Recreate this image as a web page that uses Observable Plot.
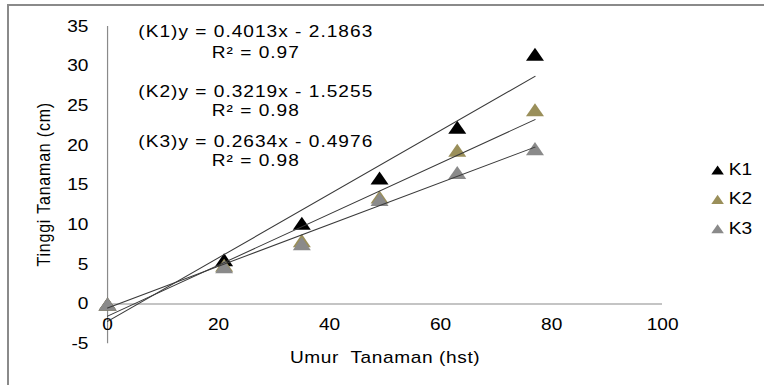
<!DOCTYPE html>
<html>
<head>
<meta charset="utf-8">
<script src="https://cdn.jsdelivr.net/npm/d3@7"></script>
<script src="https://cdn.jsdelivr.net/npm/@observablehq/plot@0.6"></script>
<style>
  html, body { margin: 0; padding: 0; background: #fff; }
  #wrap { position: relative; width: 764px; height: 385px; overflow: hidden; }
  #border { position: absolute; left: 7px; top: 4px; width: 800px; height: 420px;
            border-left: 2px solid #8a8a8a; border-top: 2px solid #8a8a8a; }
  #chart { position: absolute; left: 0; top: 0; }
</style>
</head>
<body>
<div id="wrap"><div id="border"></div><div id="chart"></div></div>
<script>
// ---- data ----
const days = [0, 21, 35, 49, 63, 77];
const seriesNames = ["K1", "K2", "K3"];
const k1 = [0, 5.6, 10.2, 15.9, 22.3, 31.5];
const k2 = [0, 4.9, 8.0, 13.5, 19.4, 24.5];
const k3 = [0, 4.7, 7.6, 13.2, 16.6, 19.6];
const slopes = [0.4013, 0.3219, 0.2634];
const intercepts = [-2.1863, -1.5255, -0.4976];
const r2 = ["0.97", "0.98", "0.98"];
const xTicks = [0, 20, 40, 60, 80, 100];
const yTicks = [-5, 0, 5, 10, 15, 20, 25, 30, 35];
const xLabel = "Umur  Tanaman (hst)";
const yLabel = "Tinggi Tanaman (cm)";

// ---- styling / layout ----
const colors = ["#000000", "#9a8f5a", "#8a8a8a"];
const W = 640, H = 385;   // drawn narrow, stretched horizontally to 764 like the source
const font = "'Liberation Sans', Arial, sans-serif";
const eqX = 26.7;
const eqY = [34.3, 26.7, 20.5];
const r2Y = [31.7, 24.3, 18.1];
const legX = 109.9, legTextX = 111.9;
const legY = [16.9, 13.2, 9.5];

const valuesBySeries = [k1, k2, k3];
const points = [];
seriesNames.forEach((s, i) => days.forEach((d, j) => points.push({series: s, x: d, y: valuesBySeries[i][j], c: colors[i]})));

const xMax = d3.max(days);
const trend = [];
seriesNames.forEach((s, i) => [0, xMax].forEach(x => trend.push({series: s, x, y: slopes[i] * x + intercepts[i]})));

const eqText = seriesNames.map((s, i) => ({
  t: `(${s})y = ${slopes[i]}x - ${Math.abs(intercepts[i])}`, y: eqY[i]
}));
const r2Text = seriesNames.map((s, i) => ({t: `R² = ${r2[i]}`, y: r2Y[i]}));
const legend = seriesNames.map((s, i) => ({s, c: colors[i], y: legY[i]}));

const chart = Plot.plot({
  width: W, height: H,
  marginLeft: 89.6, marginRight: 85.4, marginTop: 26, marginBottom: 41.8,
  style: {fontFamily: font, fontSize: "16px", color: "#000", background: "transparent", overflow: "visible"},
  x: {domain: [0, 100], axis: null},
  y: {domain: [-5, 35], axis: null},
  marks: [
    Plot.ruleX([0], {y1: -5, y2: 35, stroke: "#8a8a8a", strokeWidth: 1}),
    Plot.ruleY([0], {x1: 0, x2: 100, stroke: "#8a8a8a", strokeWidth: 1}),
    Plot.text(yTicks, {x: 0, y: d => d, text: d => String(d), textAnchor: "end", dx: -16, fontSize: 16, fill: "#000"}),
    Plot.text(xTicks, {x: d => d, y: 0, text: d => String(d), dy: 21, fontSize: 16, fill: "#000"}),
    Plot.text([xLabel], {x: 50, y: -5, text: d => d, dy: 14, fontSize: 16, fill: "#000"}),
    Plot.text([yLabel], {x: -11.5, y: 15.1, text: d => d, rotate: -90, fontSize: 16, fill: "#000"}),
    Plot.dot(points, {x: "x", y: "y", symbol: "triangle", r: 5.6, dy: 2.2, fill: "c", stroke: "none"}),
    Plot.line(trend, {x: "x", y: "y", z: "series", stroke: "#3a3a3a", strokeWidth: 1}),
    Plot.text(eqText, {x: eqX, y: "y", text: "t", fontSize: 16, fill: "#000"}),
    Plot.text(r2Text, {x: eqX, y: "y", text: "t", fontSize: 16, fill: "#000"}),
    Plot.dot(legend, {x: legX, y: "y", symbol: "triangle", r: 3.9, dy: 1.5, fill: "c", stroke: "none"}),
    Plot.text(legend, {x: legTextX, y: "y", text: "s", textAnchor: "start", fontSize: 16, fill: "#000"})
  ]
});
// widen the letter spacing of the long labels, as in the source picture
const eqStrings = new Set([...eqText, ...r2Text].map(d => d.t));
chart.querySelectorAll("text").forEach(t => {
  const s = t.textContent;
  let ls = null;
  if (eqStrings.has(s)) ls = "0.85px";
  else if (s === xLabel) ls = "0.5px";
  else if (s === yLabel) ls = "0.8px";
  if (ls) { t.style.letterSpacing = ls; t.setAttribute("letter-spacing", ls); }
});
chart.setAttribute("width", 764);
chart.setAttribute("height", 385);
chart.setAttribute("preserveAspectRatio", "none");
chart.style.width = "764px";
chart.style.height = "385px";
chart.style.maxWidth = "none";
document.getElementById("chart").appendChild(chart);
</script>
</body>
</html>
